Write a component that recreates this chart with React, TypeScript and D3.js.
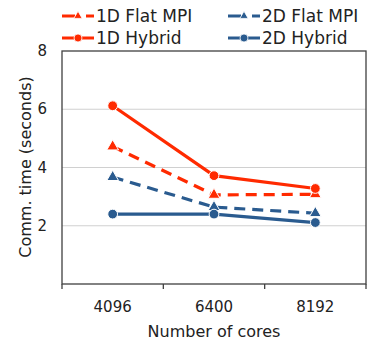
import React, { useRef, useEffect } from "react";
import * as d3 from "d3";

const cores = ["4096", "6400", "8192"];
const flat1D = [4.72, 3.06, 3.08];
const hybrid1D = [6.12, 3.72, 3.28];
const flat2D = [3.67, 2.64, 2.43];
const hybrid2D = [2.4, 2.4, 2.11];
const yTicks = [2, 4, 6, 8];

const RED = "#ff2a00";
const BLUE = "#2a5b8f";

const series = [
  { name: "1D Flat MPI", values: flat1D, color: RED, dashed: true, marker: "triangle" },
  { name: "2D Flat MPI", values: flat2D, color: BLUE, dashed: true, marker: "triangle" },
  { name: "1D Hybrid", values: hybrid1D, color: RED, dashed: false, marker: "circle" },
  { name: "2D Hybrid", values: hybrid2D, color: BLUE, dashed: false, marker: "circle" },
];

const App = () => {
  const ref = useRef<SVGSVGElement>(null);

  useEffect(() => {
    const svg = d3.select(ref.current);
    svg.selectAll("*").remove();
    const font = "Tahoma, 'DejaVu Sans', sans-serif";
    const left = 62, right = 366, top = 51, bottom = 284;

    const x = d3.scaleBand().domain(cores).range([left, right]);
    const y = d3.scaleLinear().domain([0, 8]).range([bottom, top]);

    // gridlines
    svg.append("g")
      .selectAll("line")
      .data(yTicks.filter(t => t < 8))
      .join("line")
      .attr("x1", left).attr("x2", right)
      .attr("y1", d => y(d)).attr("y2", d => y(d))
      .attr("stroke", "#d0d0d0").attr("stroke-width", 1.2);

    // frame
    svg.append("rect")
      .attr("x", left).attr("y", top)
      .attr("width", right - left).attr("height", bottom - top)
      .attr("fill", "none").attr("stroke", "#404040").attr("stroke-width", 1.3);

    // x ticks at band edges
    const edges = cores.map(c => x(c)!).concat([right]);
    svg.append("g")
      .selectAll("line")
      .data(edges)
      .join("line")
      .attr("x1", d => d).attr("x2", d => d)
      .attr("y1", bottom).attr("y2", bottom + 5)
      .attr("stroke", "#404040").attr("stroke-width", 1.3);

    svg.append("g")
      .selectAll("text")
      .data(cores)
      .join("text")
      .attr("x", d => x(d)! + x.bandwidth() / 2)
      .attr("y", 312)
      .attr("text-anchor", "middle")
      .attr("font-family", font).attr("font-size", 15).attr("fill", "#222")
      .text(d => d);

    svg.append("g")
      .selectAll("text")
      .data(yTicks)
      .join("text")
      .attr("x", 47)
      .attr("y", d => y(d) + 5)
      .attr("text-anchor", "end")
      .attr("font-family", font).attr("font-size", 15).attr("fill", "#222")
      .text(d => d);

    svg.append("text")
      .attr("x", 214).attr("y", 337)
      .attr("text-anchor", "middle")
      .attr("font-family", font).attr("font-size", 16).attr("fill", "#222")
      .text("Number of cores");

    svg.append("text")
      .attr("transform", "translate(31,167) rotate(-90)")
      .attr("text-anchor", "middle")
      .attr("font-family", font).attr("font-size", 16).attr("fill", "#222")
      .text("Comm. time (seconds)");

    const line = d3.line<number>()
      .x((d, i) => x(cores[i])! + x.bandwidth() / 2)
      .y(d => y(d));

    const tri = d3.symbol().type(d3.symbolTriangle).size(60);
    const circ = d3.symbol().type(d3.symbolCircle).size(75);

    series.forEach(s => {
      svg.append("path")
        .attr("d", line(s.values))
        .attr("fill", "none")
        .attr("stroke", s.color)
        .attr("stroke-width", 3.2)
        .attr("stroke-dasharray", s.dashed ? "11,7" : null);
      svg.append("g")
        .selectAll("path")
        .data(s.values)
        .join("path")
        .attr("transform", (d, i) => `translate(${x(cores[i])! + x.bandwidth() / 2},${y(d)})`)
        .attr("d", s.marker === "triangle" ? tri() : circ())
        .attr("fill", s.color)
        .attr("stroke", "white").attr("stroke-width", 1);
    });

    // legend
    const legendPos = [[62, 16], [228, 16], [62, 38], [228, 38]];
    series.forEach((s, i) => {
      const [lx, ly] = legendPos[i];
      const g = svg.append("g").attr("transform", `translate(${lx},${ly})`);
      if (s.dashed) {
        g.append("line").attr("x1", 0).attr("x2", 13).attr("y1", 0).attr("y2", 0)
          .attr("stroke", s.color).attr("stroke-width", 3);
        g.append("line").attr("x1", 24).attr("x2", 32).attr("y1", 0).attr("y2", 0)
          .attr("stroke", s.color).attr("stroke-width", 3);
      } else {
        g.append("line").attr("x1", 0).attr("x2", 32).attr("y1", 0).attr("y2", 0)
          .attr("stroke", s.color).attr("stroke-width", 3);
      }
      g.append("path")
        .attr("transform", "translate(16,0)")
        .attr("d", s.marker === "triangle" ? d3.symbol().type(d3.symbolTriangle).size(30)() : d3.symbol().type(d3.symbolCircle).size(50)())
        .attr("fill", s.color)
        .attr("stroke", "white").attr("stroke-width", 0.8);
      g.append("text")
        .attr("x", 34).attr("y", 6)
        .attr("font-family", font).attr("font-size", 17).attr("fill", "#222")
        .text(s.name);
    });
  });

  return (
    <div style={{ position: "absolute", left: 0, top: 0 }}>
      <svg ref={ref} width={382} height={344} style={{ display: "block", background: "white" }}></svg>
    </div>
  );
};

export default App;
